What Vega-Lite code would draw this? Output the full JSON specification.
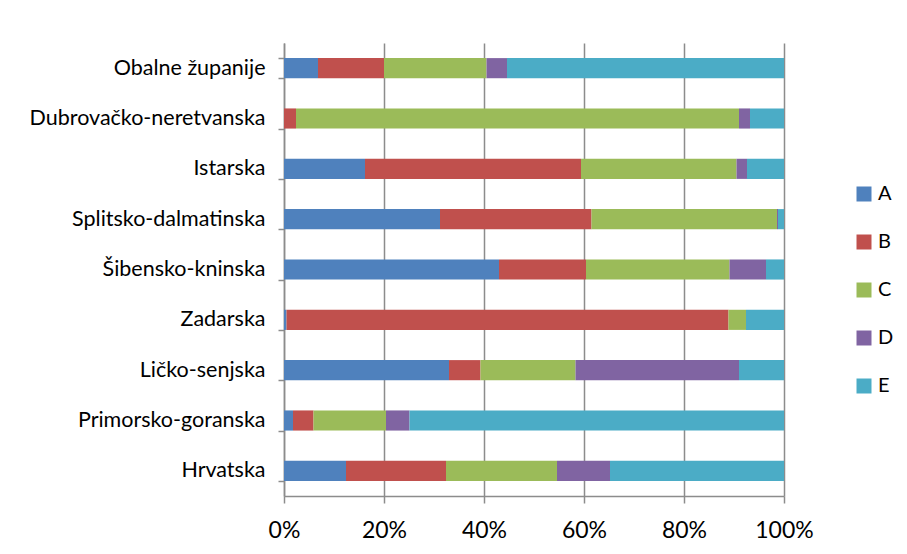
{
  "$schema": "https://vega.github.io/schema/vega-lite/v6.json",
  "width": 500,
  "height": 453,
  "autosize": {"type": "none"},
  "padding": {"left": 284, "top": 43, "right": 123, "bottom": 58},
  "background": "white",
  "config": {
    "view": {"stroke": null},
    "font": "Lato",
    "axis": {"labelFont": "Lato", "labelColor": "black", "domainColor": "#8c8c8c", "tickColor": "#8c8c8c", "gridColor": "#8c8c8c"},
    "legend": {"labelFont": "Lato", "labelColor": "black"}
  },
  "data": {
    "values": [
      {"region": "Obalne županije", "series": "A", "value": 6.8},
      {"region": "Obalne županije", "series": "B", "value": 13.2},
      {"region": "Obalne županije", "series": "C", "value": 20.5},
      {"region": "Obalne županije", "series": "D", "value": 4.1},
      {"region": "Obalne županije", "series": "E", "value": 55.4},
      {"region": "Dubrovačko-neretvanska", "series": "A", "value": 0},
      {"region": "Dubrovačko-neretvanska", "series": "B", "value": 2.4},
      {"region": "Dubrovačko-neretvanska", "series": "C", "value": 88.6},
      {"region": "Dubrovačko-neretvanska", "series": "D", "value": 2.2},
      {"region": "Dubrovačko-neretvanska", "series": "E", "value": 6.8},
      {"region": "Istarska", "series": "A", "value": 16.2},
      {"region": "Istarska", "series": "B", "value": 43.2},
      {"region": "Istarska", "series": "C", "value": 31.1},
      {"region": "Istarska", "series": "D", "value": 2.1},
      {"region": "Istarska", "series": "E", "value": 7.4},
      {"region": "Splitsko-dalmatinska", "series": "A", "value": 31.2},
      {"region": "Splitsko-dalmatinska", "series": "B", "value": 30.3},
      {"region": "Splitsko-dalmatinska", "series": "C", "value": 37.1},
      {"region": "Splitsko-dalmatinska", "series": "D", "value": 0.2},
      {"region": "Splitsko-dalmatinska", "series": "E", "value": 1.2},
      {"region": "Šibensko-kninska", "series": "A", "value": 43.0},
      {"region": "Šibensko-kninska", "series": "B", "value": 17.4},
      {"region": "Šibensko-kninska", "series": "C", "value": 28.7},
      {"region": "Šibensko-kninska", "series": "D", "value": 7.3},
      {"region": "Šibensko-kninska", "series": "E", "value": 3.6},
      {"region": "Zadarska", "series": "A", "value": 0.5},
      {"region": "Zadarska", "series": "B", "value": 88.4},
      {"region": "Zadarska", "series": "C", "value": 3.5},
      {"region": "Zadarska", "series": "D", "value": 0},
      {"region": "Zadarska", "series": "E", "value": 7.6},
      {"region": "Ličko-senjska", "series": "A", "value": 33.0},
      {"region": "Ličko-senjska", "series": "B", "value": 6.3},
      {"region": "Ličko-senjska", "series": "C", "value": 19.0},
      {"region": "Ličko-senjska", "series": "D", "value": 32.7},
      {"region": "Ličko-senjska", "series": "E", "value": 9.0},
      {"region": "Primorsko-goranska", "series": "A", "value": 1.8},
      {"region": "Primorsko-goranska", "series": "B", "value": 4.1},
      {"region": "Primorsko-goranska", "series": "C", "value": 14.5},
      {"region": "Primorsko-goranska", "series": "D", "value": 4.7},
      {"region": "Primorsko-goranska", "series": "E", "value": 74.9},
      {"region": "Hrvatska", "series": "A", "value": 12.4},
      {"region": "Hrvatska", "series": "B", "value": 20.0},
      {"region": "Hrvatska", "series": "C", "value": 22.2},
      {"region": "Hrvatska", "series": "D", "value": 10.6},
      {"region": "Hrvatska", "series": "E", "value": 34.8}
    ]
  },
  "mark": {"type": "bar"},
  "encoding": {
    "y": {
      "field": "region",
      "type": "nominal",
      "sort": ["Obalne županije", "Dubrovačko-neretvanska", "Istarska", "Splitsko-dalmatinska", "Šibensko-kninska", "Zadarska", "Ličko-senjska", "Primorsko-goranska", "Hrvatska"],
      "scale": {"paddingInner": 0.6, "paddingOuter": 0.3},
      "axis": {
        "title": null,
        "labelFontSize": 21.5,
        "labelLimit": 400,
        "labelPadding": 13,
        "tickSize": 6,
        "tickBand": "extent",
        "domainWidth": 1.5,
        "tickWidth": 1.5,
        "grid": false
      }
    },
    "x": {
      "field": "value",
      "type": "quantitative",
      "stack": "normalize",
      "scale": {"domain": [0, 1], "nice": false},
      "axis": {
        "title": null,
        "format": ".0%",
        "values": [0, 0.2, 0.4, 0.6, 0.8, 1],
        "labelFontSize": 23,
        "labelPadding": 16,
        "tickSize": 7,
        "domainWidth": 1.5,
        "tickWidth": 1.5,
        "grid": true,
        "gridWidth": 1.5,
        "labelFlush": false,
        "labelLimit": 400
      }
    },
    "color": {
      "field": "series",
      "type": "nominal",
      "scale": {"domain": ["A", "B", "C", "D", "E"], "range": ["#4F81BD", "#C0504D", "#9BBB59", "#8064A2", "#4BACC6"]},
      "legend": {
        "title": null,
        "orient": "none",
        "legendX": 570,
        "legendY": 141,
        "symbolType": "square",
        "symbolSize": 225,
        "symbolStrokeWidth": 0,
        "labelFontSize": 20,
        "rowPadding": 28,
        "labelOffset": 4
      }
    },
    "order": {"field": "series", "sort": "ascending"}
  }
}
